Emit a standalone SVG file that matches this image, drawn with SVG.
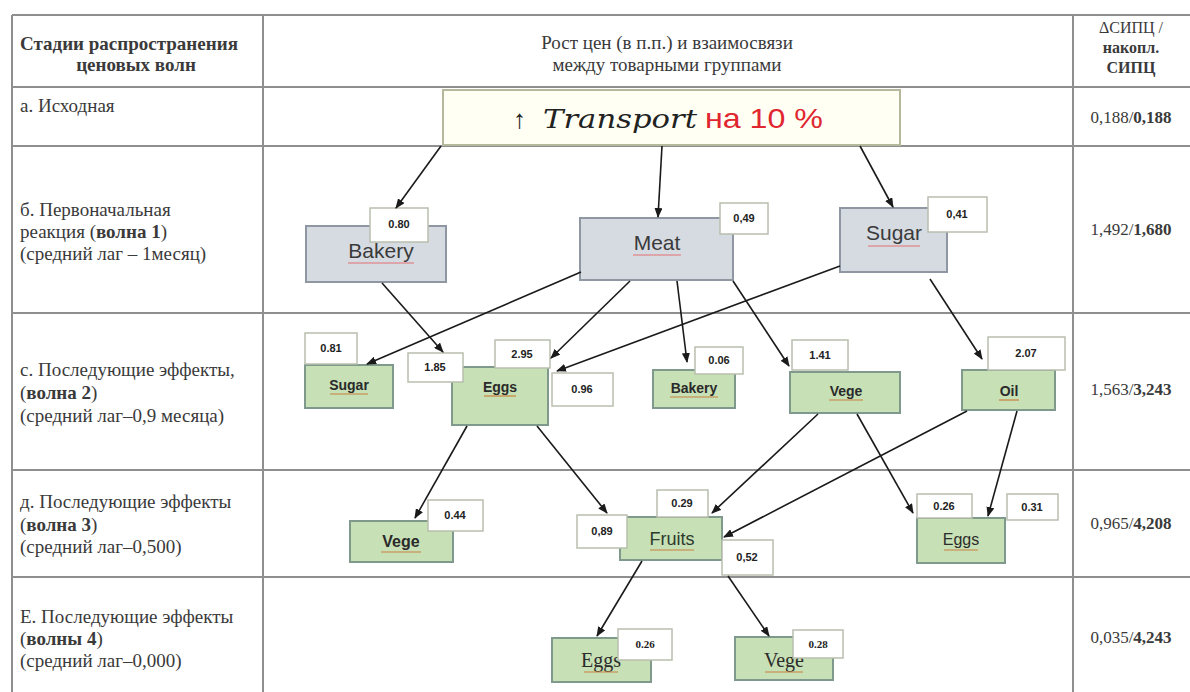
<svg xmlns="http://www.w3.org/2000/svg" width="1190" height="692" viewBox="0 0 1190 692">
<style>
.tl{stroke:#8f8f8f;stroke-width:2;fill:none}
.t{font-family:"Liberation Serif",serif;font-size:19px;fill:#3a3a3a}
.b{font-weight:bold}
.c{text-anchor:middle}
.gn{fill:#d6dbe2;stroke:#8e97a2;stroke-width:2}
.gr{fill:#c7e0b5;stroke:#7f9a8c;stroke-width:2}
.lb{fill:#fff;stroke:#b9bfae;stroke-width:1.5}
.lt{font-family:"Liberation Sans",sans-serif;font-size:11px;font-weight:bold;fill:#222;text-anchor:middle}
.ls{font-family:"Liberation Serif",serif;font-size:11px;font-weight:bold;fill:#222;text-anchor:middle}
.gt{font-family:"Liberation Sans",sans-serif;font-size:21px;fill:#3a3a3a;text-anchor:middle}
.rt{font-family:"Liberation Sans",sans-serif;font-size:14px;font-weight:bold;fill:#2a2a2a;text-anchor:middle}
.ru{stroke:#e07070;stroke-width:1.2}
.ou{stroke:#c88040;stroke-width:1.2}
.e{stroke:#1a1a1a;stroke-width:1.6;fill:none;marker-end:url(#ah)}
</style>
<defs>
<marker id="ah" viewBox="0 0 10 8" refX="9" refY="4" markerWidth="10" markerHeight="8" markerUnits="userSpaceOnUse" orient="auto">
<path d="M0,0 L10,4 L0,8 z" fill="#1a1a1a"/>
</marker>
</defs>
<rect width="1190" height="692" fill="#fff"/>

<g id="table">
<line class="tl" x1="12" y1="15" x2="1190" y2="15"/>
<line class="tl" x1="12" y1="87" x2="1190" y2="87"/>
<line class="tl" x1="12" y1="146" x2="1190" y2="146"/>
<line class="tl" x1="12" y1="313" x2="1190" y2="313"/>
<line class="tl" x1="12" y1="470" x2="1190" y2="470"/>
<line class="tl" x1="12" y1="577" x2="1190" y2="577"/>
<line class="tl" x1="12" y1="15" x2="12" y2="692"/>
<line class="tl" x1="263" y1="15" x2="263" y2="692"/>
<line class="tl" x1="1073" y1="15" x2="1073" y2="692"/>

<text class="t b" x="20" y="50">Стадии распространения</text>
<text class="t b" x="136" y="71" text-anchor="middle">ценовых волн</text>
<text class="t c" x="667" y="49">Рост цен (в п.п.) и взаимосвязи</text>
<text class="t c" x="667" y="71">между товарными группами</text>
<text class="t c" x="1131" y="33" style="font-size:16px">ΔСИПЦ /</text>
<text class="t c b" x="1131" y="53" style="font-size:16px">накопл.</text>
<text class="t c b" x="1131" y="73" style="font-size:16px">СИПЦ</text>

<text class="t" x="20" y="112">а. Исходная</text>
<text class="t" x="20" y="216">б.  Первоначальная</text>
<text class="t" x="20" y="238">реакция (<tspan class="b">волна 1</tspan>)</text>
<text class="t" x="20" y="260">(средний лаг – 1месяц)</text>
<text class="t" x="20" y="376">с. Последующие эффекты,</text>
<text class="t" x="20" y="399">(<tspan class="b">волна 2</tspan>)</text>
<text class="t" x="20" y="422">(средний лаг–0,9 месяца)</text>
<text class="t" x="20" y="508">д. Последующие эффекты</text>
<text class="t" x="20" y="531">(<tspan class="b">волна 3</tspan>)</text>
<text class="t" x="20" y="553">(средний лаг–0,500)</text>
<text class="t" x="20" y="623">Е. Последующие эффекты</text>
<text class="t" x="20" y="645">(<tspan class="b">волны 4</tspan>)</text>
<text class="t" x="20" y="667">(средний лаг–0,000)</text>

<text class="t c" x="1131" y="123" style="font-size:17px">0,188/<tspan class="b">0,188</tspan></text>
<text class="t c" x="1131" y="235" style="font-size:17px">1,492/<tspan class="b">1,680</tspan></text>
<text class="t c" x="1131" y="395" style="font-size:17px">1,563/<tspan class="b">3,243</tspan></text>
<text class="t c" x="1131" y="529" style="font-size:17px">0,965/<tspan class="b">4,208</tspan></text>
<text class="t c" x="1131" y="643" style="font-size:17px">0,035/<tspan class="b">4,243</tspan></text>
</g>

<g id="n-transport">
<rect x="443" y="90" width="457" height="55" fill="#fffff4" stroke="#b5b89a" stroke-width="2"/>
<text x="513" y="128" font-family="Liberation Serif, serif" font-size="26" fill="#222">↑</text>
<text x="543" y="128" font-family="DejaVu Serif, serif" font-style="italic" font-size="26" fill="#222" textLength="154" lengthAdjust="spacingAndGlyphs">Transport</text>
<text x="705" y="128" font-family="Liberation Sans, sans-serif" font-size="28" fill="#e0262f" textLength="118" lengthAdjust="spacingAndGlyphs">на 10 %</text>
</g>

<g id="n-bakery1">
<rect class="gn" x="306" y="226" width="140" height="56"/>
<text class="gt" x="381" y="258">Bakery</text>
<line class="ru" x1="348" y1="263" x2="414" y2="263"/>
<rect class="lb" x="370" y="208" width="58" height="34"/>
<text class="lt" x="399" y="228">0.80</text>
</g>

<g id="n-meat">
<rect class="gn" x="580" y="218" width="153" height="62"/>
<text class="gt" x="657" y="250">Meat</text>
<line class="ru" x1="633" y1="255" x2="681" y2="255"/>
<rect class="lb" x="720" y="203" width="48" height="31"/>
<text class="lt" x="744" y="222">0,49</text>
</g>

<g id="n-sugar1">
<rect class="gn" x="840" y="208" width="107" height="64"/>
<text class="gt" x="894" y="240">Sugar</text>
<line class="ru" x1="868" y1="246" x2="920" y2="246"/>
<rect class="lb" x="928" y="197" width="59" height="35"/>
<text class="lt" x="957" y="218">0,41</text>
</g>

<g id="n-sugar2">
<rect class="gr" x="305" y="365" width="88" height="43"/>
<text class="rt" x="349" y="390">Sugar</text>
<line class="ou" x1="330" y1="394" x2="368" y2="394"/>
<rect class="lb" x="305" y="333" width="52" height="31"/>
<text class="lt" x="331" y="352">0.81</text>
</g>

<g id="n-eggs2">
<rect class="gr" x="452" y="367" width="96" height="58"/>
<text class="rt" x="500" y="392">Eggs</text>
<line class="ou" x1="484" y1="396" x2="516" y2="396"/>
<rect class="lb" x="408" y="353" width="55" height="29"/>
<text class="lt" x="435" y="371">1.85</text>
<rect class="lb" x="495" y="340" width="55" height="28"/>
<text class="lt" x="522" y="358">2.95</text>
<rect class="lb" x="552" y="373" width="61" height="33"/>
<text class="lt" x="582" y="393">0.96</text>
</g>

<g id="n-bakery2">
<rect class="gr" x="653" y="370" width="82" height="38"/>
<text class="rt" x="694" y="393">Bakery</text>
<line class="ou" x1="670" y1="397" x2="718" y2="397"/>
<rect class="lb" x="695" y="347" width="48" height="27"/>
<text class="lt" x="719" y="364">0.06</text>
</g>

<g id="n-vege2">
<rect class="gr" x="790" y="372" width="110" height="41"/>
<text class="rt" x="846" y="396">Vege</text>
<line class="ou" x1="829" y1="400" x2="863" y2="400"/>
<rect class="lb" x="792" y="340" width="56" height="30"/>
<text class="lt" x="820" y="359">1.41</text>
</g>

<g id="n-oil">
<rect class="gr" x="962" y="370" width="93" height="40"/>
<text class="rt" x="1009" y="396">Oil</text>
<line class="ou" x1="999" y1="400" x2="1019" y2="400"/>
<rect class="lb" x="988" y="337" width="77" height="33"/>
<text class="lt" x="1026" y="357">2.07</text>
</g>

<g id="n-vege3">
<rect class="gr" x="350" y="521" width="103" height="41"/>
<text class="rt" x="401" y="547" style="font-size:16px">Vege</text>
<line class="ou" x1="381" y1="552" x2="421" y2="552"/>
<rect class="lb" x="428" y="500" width="55" height="31"/>
<text class="lt" x="455" y="519">0.44</text>
</g>

<g id="n-fruits">
<rect class="gr" x="620" y="517" width="102" height="43"/>
<text x="672" y="545" font-family="Liberation Sans, sans-serif" font-size="18" fill="#2c3a2c" text-anchor="middle">Fruits</text>
<line class="ou" x1="650" y1="550" x2="694" y2="550"/>
<rect class="lb" x="657" y="490" width="51" height="27"/>
<text class="lt" x="682" y="507">0.29</text>
<rect class="lb" x="577" y="515" width="50" height="33"/>
<text class="lt" x="602" y="535">0,89</text>
<rect class="lb" x="722" y="540" width="51" height="35"/>
<text class="lt" x="747" y="561">0,52</text>
</g>

<g id="n-eggs3">
<rect class="gr" x="917" y="518" width="88" height="45"/>
<text x="961" y="545" font-family="Liberation Sans, sans-serif" font-size="16" fill="#2c2c2c" text-anchor="middle">Eggs</text>
<line class="ou" x1="944" y1="550" x2="978" y2="550"/>
<rect class="lb" x="917" y="494" width="55" height="24"/>
<text class="lt" x="944" y="510">0.26</text>
<rect class="lb" x="1007" y="494" width="51" height="26"/>
<text class="lt" x="1032" y="511">0.31</text>
</g>

<g id="n-eggs4">
<rect class="gr" x="552" y="638" width="99" height="44"/>
<text x="601" y="667" font-family="Liberation Serif, serif" font-size="20" fill="#2c2c2c" text-anchor="middle">Eggs</text>
<line class="ou" x1="584" y1="672" x2="618" y2="672"/>
<rect class="lb" x="618" y="629" width="54" height="31"/>
<text class="ls" x="645" y="648">0.26</text>
</g>

<g id="n-vege4">
<rect class="gr" x="735" y="637" width="98" height="43"/>
<text x="784" y="667" font-family="Liberation Serif, serif" font-size="20" fill="#2c2c2c" text-anchor="middle">Vege</text>
<line class="ou" x1="765" y1="672" x2="803" y2="672"/>
<rect class="lb" x="793" y="630" width="50" height="28"/>
<text class="ls" x="818" y="648">0.28</text>
</g>

<g id="connectors">
<line class="e" x1="441" y1="146" x2="396" y2="208"/>
<line class="e" x1="662" y1="146" x2="658" y2="217"/>
<line class="e" x1="860" y1="146" x2="893" y2="207"/>
<line class="e" x1="581" y1="272" x2="367" y2="364"/>
<line class="e" x1="382" y1="283" x2="443" y2="352"/>
<line class="e" x1="630" y1="281" x2="551" y2="358"/>
<line class="e" x1="840" y1="266" x2="557" y2="371"/>
<line class="e" x1="677" y1="281" x2="687" y2="362"/>
<line class="e" x1="733" y1="281" x2="789" y2="366"/>
<line class="e" x1="930" y1="279" x2="982" y2="359"/>
<line class="e" x1="467" y1="426" x2="415" y2="518"/>
<line class="e" x1="537" y1="426" x2="607" y2="513"/>
<line class="e" x1="818" y1="414" x2="712" y2="513"/>
<line class="e" x1="967" y1="411" x2="724" y2="537"/>
<line class="e" x1="857" y1="414" x2="913" y2="513"/>
<line class="e" x1="1017" y1="411" x2="988" y2="516"/>
<line class="e" x1="642" y1="561" x2="597" y2="636"/>
<line class="e" x1="728" y1="576" x2="769" y2="636"/>
</g>
</svg>
